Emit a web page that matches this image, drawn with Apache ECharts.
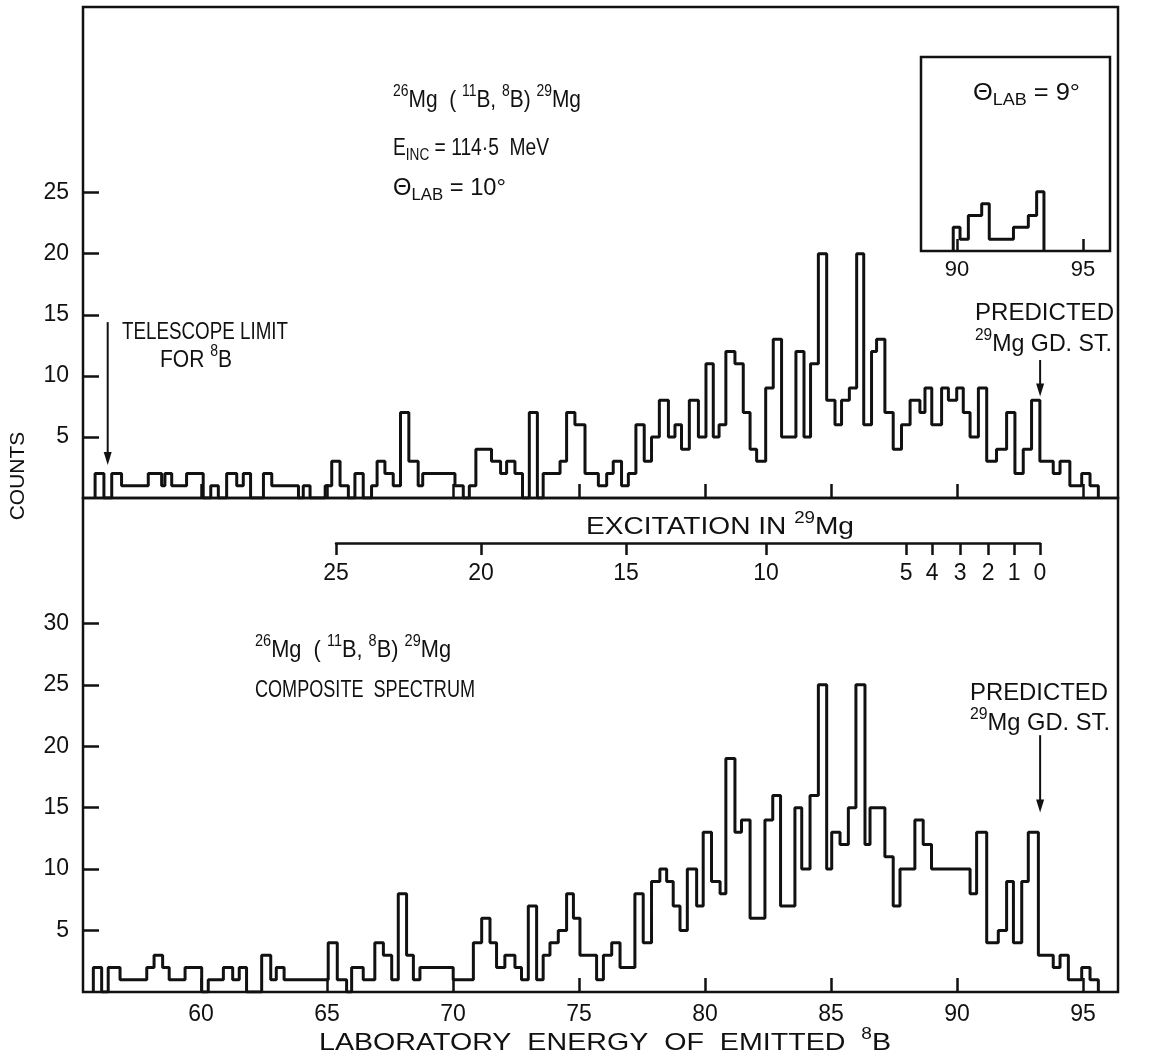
<!DOCTYPE html>
<html><head><meta charset="utf-8">
<script src="https://cdn.jsdelivr.net/npm/echarts@6/dist/echarts.min.js"></script>
<style>html,body{margin:0;padding:0;background:#fff}#c{width:1157px;height:1059px}</style>
</head><body><div id="c"></div>
<script>
// ---- DATA (laboratory energy of emitted 8B, MeV; counts per bin) ----
const topEdges = [55.80,56.15,56.46,56.85,57.91,58.44,58.57,58.84,59.43,60.09,60.39,60.69,61.02,61.42,61.68,61.97,62.48,62.81,63.87,64.06,64.33,64.93,65.19,65.52,65.85,66.11,66.44,66.77,66.99,67.30,67.63,67.92,68.25,68.62,68.80,70.08,70.41,70.65,70.91,71.53,71.89,72.13,72.46,72.76,73.03,73.35,73.58,74.25,74.51,74.84,75.24,75.77,76.10,76.36,76.69,76.96,77.26,77.59,77.88,78.19,78.55,78.81,79.07,79.38,79.74,80.04,80.33,80.56,80.83,81.19,81.52,81.79,82.05,82.41,82.71,83.04,83.61,83.93,84.19,84.50,84.83,85.16,85.42,85.73,86.02,86.30,86.61,86.81,87.14,87.47,87.80,88.14,88.53,88.73,89.00,89.39,89.66,89.99,90.25,90.52,90.85,91.18,91.57,91.97,92.30,92.63,92.96,93.29,93.82,94.09,94.48,94.95,95.28,95.61];
const topCounts = [2,0,2,1,2,1,2,1,2,0,1,0,2,1,2,0,2,1,0,1,0,1,3,1,0,2,0,1,3,2,1,7,3,1,2,1,0,1,4,3,2,3,2,0,7,0,2,3,7,6,2,1,2,3,1,2,6,3,5,8,5,6,4,8,5,11,5,6,12,11,7,4,3,9,13,5,12,5,11,20,8,6,8,9,20,6,12,13,7,4,6,8,7,9,6,9,8,9,7,5,9,3,4,7,2,4,8,3,2,3,1,2,1,0];
const botEdges = [55.73,56.06,56.32,56.79,57.85,58.14,58.48,58.74,59.37,60.03,60.29,60.89,61.26,61.52,61.81,62.41,62.77,62.99,63.30,65.05,65.41,65.78,65.98,66.44,66.90,67.24,67.57,67.83,68.16,68.43,68.69,70.01,70.81,71.14,71.47,71.73,72.06,72.46,72.72,72.99,73.32,73.58,73.85,74.18,74.51,74.78,75.04,75.70,75.97,76.30,76.63,77.22,77.55,77.88,78.21,78.48,78.74,79.01,79.30,79.67,79.93,80.26,80.60,80.83,81.19,81.45,81.79,82.38,82.69,83.00,83.57,83.84,84.17,84.50,84.83,85.03,85.36,85.69,85.99,86.35,86.55,87.14,87.47,87.74,88.33,88.66,88.99,90.52,90.78,91.18,91.64,91.97,92.24,92.57,92.83,93.23,93.82,94.09,94.42,94.95,95.28,95.61];
const botCounts = [2,0,2,1,2,3,2,1,2,0,1,2,1,2,0,3,1,2,1,4,1,0,2,1,4,3,1,8,3,1,2,1,4,6,4,2,3,2,1,7,1,3,4,5,8,6,3,1,3,4,2,8,4,9,10,9,7,5,10,7,13,9,8,19,13,14,6,14,16,7,15,10,16,25,10,13,12,15,25,12,15,11,7,10,14,12,10,8,13,4,5,9,4,9,13,3,2,3,1,2,1,0];
const insetEdges = [89.85,90.12,90.45,90.98,91.28,92.24,92.83,93.16,93.45];
const insetCounts = [2,1,3,4,1,2,3,5,0];
// tick labels
const xTickVals = [60,65,70,75,80,85,90,95];
const yTopTicks = [5,10,15,20,25];
const yBotTicks = [5,10,15,20,25,30];
const insetTicks = [90,95];
// excitation scale: labels and the lab energy (MeV) at which each one sits
const excitLabels = ['25','20','15','10','5','4','3','2','1','0'];
const excitAtLab = [65.36,71.11,76.87,82.42,87.98,89.01,90.12,91.23,92.26,93.29];

// ---- CHART ----
const chart = echarts.init(document.getElementById('c'));
const F = '"Liberation Sans", Arial, sans-serif';
const INK = '#111';
function steps(edges, counts){ const p=[[edges[0],0]]; for(let i=0;i<edges.length;i++) p.push([edges[i],counts[i]]); return p; }
const xMin = 55.32, xMax = 96.39, yMax = 40.2;
function xAx(grid, labels){
  return {gridIndex:grid,type:'value',min:xMin,max:xMax,axisLine:{show:false},splitLine:{show:false},
    axisTick:{show:true,inside:true,length:14,customValues:xTickVals,lineStyle:{color:INK,width:2.5}},
    axisLabel:{show:labels,customValues:xTickVals,fontSize:23,color:INK,margin:11,fontFamily:F}};
}
function yAx(grid, ticks){
  return {gridIndex:grid,type:'value',min:0,max:yMax,axisLine:{show:false},splitLine:{show:false},
    axisTick:{show:true,inside:true,length:16,customValues:ticks,lineStyle:{color:INK,width:2.5}},
    axisLabel:{show:true,customValues:ticks,fontSize:23,color:INK,margin:14,fontFamily:F}};
}
function excitLabel(v){
  let best=0; for(let i=1;i<excitAtLab.length;i++) if(Math.abs(excitAtLab[i]-v)<Math.abs(excitAtLab[best]-v)) best=i;
  return excitLabels[best];
}
const lineStyle = {color:INK,width:3};
const option = {
  animation:false,
  backgroundColor:'#fff',
  grid:[
    {left:83,top:7,width:1035,height:491,show:true,borderColor:INK,borderWidth:2.5},
    {left:83,top:498,width:1035,height:494,show:true,borderColor:INK,borderWidth:2.5},
    {left:921,top:57,width:189,height:194,show:true,borderColor:INK,borderWidth:2.5,backgroundColor:'#fff'},
    {left:336,top:520,width:704,height:23,show:false}
  ],
  xAxis:[
    xAx(0,false), xAx(1,true),
    {gridIndex:2,type:'value',min:88.571,max:96.071,axisLine:{show:false},splitLine:{show:false},
      axisTick:{show:true,inside:true,length:12,customValues:insetTicks,lineStyle:{color:INK,width:2.5}},
      axisLabel:{show:true,customValues:insetTicks,fontSize:22,color:INK,margin:8,fontFamily:F}},
    {gridIndex:3,type:'value',min:excitAtLab[0],max:excitAtLab[excitAtLab.length-1],splitLine:{show:false},
      axisLine:{show:true,lineStyle:{color:INK,width:2.5}},
      axisTick:{show:true,inside:false,length:12,customValues:excitAtLab,lineStyle:{color:INK,width:2.5}},
      axisLabel:{show:true,customValues:excitAtLab,formatter:excitLabel,fontSize:23,color:INK,margin:19,fontFamily:F}}
  ],
  yAxis:[
    yAx(0,yTopTicks), yAx(1,yBotTicks),
    {gridIndex:2,type:'value',min:0,max:16.4,show:false},
    {gridIndex:3,type:'value',min:0,max:1,show:false}
  ],
  series:[
    {type:'line',xAxisIndex:0,yAxisIndex:0,step:'end',showSymbol:false,lineStyle,data:steps(topEdges,topCounts)},
    {type:'line',xAxisIndex:1,yAxisIndex:1,step:'end',showSymbol:false,lineStyle,data:steps(botEdges,botCounts)},
    {type:'line',xAxisIndex:2,yAxisIndex:2,step:'end',showSymbol:false,lineStyle,data:steps(insetEdges,insetCounts)}
  ]
};
chart.setOption(option);

// ---- annotation text (rich text with super/subscripts, width-fitted) ----
const SZ = {n:24, sup:16, sub:17};
const rich = {
  n:{fontSize:SZ.n,fontFamily:F,color:INK,lineHeight:32},
  sup:{fontSize:SZ.sup,fontFamily:F,color:INK,verticalAlign:'top',lineHeight:16},
  sub:{fontSize:SZ.sub,fontFamily:F,color:INK,verticalAlign:'bottom',lineHeight:17}
};
const mctx = document.createElement('canvas').getContext('2d');
function natW(tokens){ let w=0; tokens.forEach(t=>{ mctx.font=SZ[t[0]]+'px '+F; w+=mctx.measureText(t[1]).width; }); return w; }
function txt(x,y,tokens,width,align){
  const s = tokens.map(t=>'{'+t[0]+'|'+t[1]+'}').join('');
  const sx = width ? width/natW(tokens) : 1;
  return {type:'text',x:x,y:y,scaleX:sx,style:{text:s,rich:rich,textAlign:align||'left',textVerticalAlign:'middle',fill:INK,fontSize:SZ.n,fontFamily:F}};
}
function arrow(xi,yi,e,c0,c1){
  const a = chart.convertToPixel({xAxisIndex:xi,yAxisIndex:yi},[e,c0]);
  const b = chart.convertToPixel({xAxisIndex:xi,yAxisIndex:yi},[e,c1]);
  return [
    {type:'line',shape:{x1:a[0],y1:a[1],x2:b[0],y2:b[1]-10},style:{stroke:INK,lineWidth:2}},
    {type:'polygon',shape:{points:[[b[0]-4,b[1]-13],[b[0]+4,b[1]-13],[b[0],b[1]]]},style:{fill:INK}}
  ];
}
const reaction = [['sup','26'],['n','Mg  ( '],['sup','11'],['n','B, '],['sup','8'],['n','B) '],['sup','29'],['n','Mg']];
const gdst = [['sup','29'],['n','Mg GD. ST.']];
const graphics = [
  txt(393,100,reaction,188),
  txt(393,148,[['n','E'],['sub','INC'],['n',' = 114·5  MeV']],156),
  txt(393,188,[['n','Θ'],['sub','LAB'],['n',' = 10°']],113),
  txt(973,93,[['n','Θ'],['sub','LAB'],['n',' = 9°']],107),
  txt(122,332,[['n','TELESCOPE LIMIT']],166),
  txt(160,360,[['n','FOR '],['sup','8'],['n','B']],72),
  txt(975,313,[['n','PREDICTED']],139),
  txt(975,344,gdst,137),
  txt(720,527,[['n','EXCITATION IN '],['sup','29'],['n','Mg']],268,'center'),
  txt(255,650,reaction,196),
  txt(255,690,[['n','COMPOSITE  SPECTRUM']],220),
  txt(970,693,[['n','PREDICTED']],138),
  txt(970,723,gdst,140),
  txt(605,1043,[['n','LABORATORY  ENERGY  OF  EMITTED  '],['sup','8'],['n','B']],572,'center'),
  {type:'text',x:18,y:476,rotation:Math.PI/2,style:{text:'COUNTS',fontSize:21,fontFamily:F,fill:INK,textAlign:'center',textVerticalAlign:'middle'}}
].concat(arrow(0,0,56.3,14.4,2.7), arrow(0,0,93.3,11.3,8.3), arrow(1,1,93.3,20.9,14.6));
chart.setOption({graphic:graphics});
</script>
</body></html>
